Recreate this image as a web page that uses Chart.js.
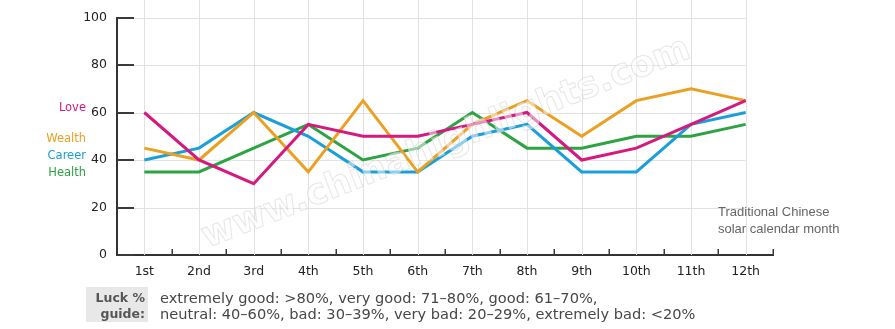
<!DOCTYPE html>
<html>
<head>
<meta charset="utf-8">
<script src="https://cdn.jsdelivr.net/npm/chart.js@4"></script>
<style>
  html, body { margin: 0; padding: 0; background: #ffffff; }
  #wrap { width: 895px; height: 329px; position: relative; }
</style>
</head>
<body>
<div id="wrap"><canvas id="c" width="895" height="329"></canvas></div>
<script>
const months = ['1st','2nd','3rd','4th','5th','6th','7th','8th','9th','10th','11th','12th'];
const love   = [60, 40, 30, 55, 50, 50, 55, 60, 40, 45, 55, 65];
const wealth = [45, 40, 60, 35, 65, 35, 55, 65, 50, 65, 70, 65];
const career = [40, 45, 60, 50, 35, 35, 50, 55, 35, 35, 55, 60];
const health = [35, 35, 45, 55, 40, 45, 60, 45, 45, 50, 50, 55];
const yTicks = [0, 20, 40, 60, 80, 100];
const seriesNames = ['Love', 'Wealth', 'Career', 'Health'];
const seriesColors = ['#d4197f', '#eba022', '#1b9fd8', '#2ea344'];
const guideLines = [
  'extremely good: >80%, very good: 71\u201380%, good: 61\u201370%,',
  'neutral: 40\u201360%, bad: 30\u201339%, very bad: 20\u201329%, extremely bad: <20%'
];
const axisTitle = ['Traditional Chinese', 'solar calendar month'];

const customGrid = {
  id: 'customGrid',
  beforeDatasetsDraw(chart) {
    const { ctx, chartArea: a, scales: { x, y } } = chart;
    ctx.save();
    const step = x.getPixelForValue(1) - x.getPixelForValue(0);
    ctx.strokeStyle = '#e2e2e2';
    ctx.lineWidth = 1;
    months.forEach((m, i) => {
      const px = Math.round(x.getPixelForValue(i)) + 0.5;
      ctx.beginPath(); ctx.moveTo(px, 0); ctx.lineTo(px, a.bottom); ctx.stroke();
    });
    const xEnd = x.getPixelForValue(months.length - 1);
    yTicks.forEach(v => {
      if (v === 0) return;
      const py = Math.round(y.getPixelForValue(v)) + 0.5;
      ctx.beginPath(); ctx.moveTo(a.left, py); ctx.lineTo(xEnd, py); ctx.stroke();
    });
    ctx.strokeStyle = '#3a3a3a';
    ctx.lineWidth = 2;
    yTicks.forEach(v => {
      const py = Math.round(y.getPixelForValue(v));
      ctx.beginPath(); ctx.moveTo(a.left, py); ctx.lineTo(a.left + 17, py); ctx.stroke();
    });
    ctx.lineWidth = 1.5;
    months.forEach((m, i) => {
      const px = Math.round(x.getPixelForValue(i) + step / 2) + 0.25;
      ctx.beginPath(); ctx.moveTo(px, a.bottom); ctx.lineTo(px, a.bottom - 6); ctx.stroke();
    });
    ctx.restore();
  },
  afterDatasetsDraw(chart) {
    const { ctx } = chart;
    ctx.save();
    ctx.translate(207, 248);
    ctx.rotate(-0.375);
    ctx.font = 'bold 36px "DejaVu Sans"';
    ctx.textBaseline = 'alphabetic';
    ctx.fillStyle = 'rgba(255,255,255,0.5)';
    ctx.fillText('www.chinahighlights.com', 0, 0);
    ctx.strokeStyle = 'rgba(205,205,205,0.5)';
    ctx.lineWidth = 1;
    ctx.strokeText('www.chinahighlights.com', 0, 0);
    ctx.restore();
  },
  afterDraw(chart) {
    const { ctx } = chart;
    ctx.save();
    ctx.font = '11.5px "DejaVu Sans"';
    ctx.textAlign = 'right';
    ctx.textBaseline = 'middle';
    const labelY = [108, 139, 156, 173];
    seriesNames.forEach((n, i) => {
      ctx.fillStyle = seriesColors[i];
      ctx.fillText(n, 86, labelY[i]);
    });
    ctx.textAlign = 'left';
    ctx.textBaseline = 'alphabetic';
    ctx.fillStyle = '#666666';
    ctx.font = '13px "Liberation Sans"';
    ctx.fillText(axisTitle[0], 718, 216);
    ctx.fillText(axisTitle[1], 718, 233);
    ctx.fillStyle = '#e8e8e8';
    ctx.fillRect(86, 287, 62, 35);
    ctx.fillStyle = '#555555';
    ctx.font = 'bold 12.5px "DejaVu Sans"';
    ctx.textAlign = 'right';
    ctx.fillText('Luck %', 145, 302);
    ctx.fillText('guide:', 145, 318);
    ctx.textAlign = 'left';
    ctx.fillStyle = '#474747';
    ctx.font = '14.6px "DejaVu Sans"';
    ctx.fillText(guideLines[0], 160, 303);
    ctx.fillText(guideLines[1], 160, 319);
    ctx.restore();
  }
};

const datasets = [love, wealth, career, health].map((d, i) => ({
  label: seriesNames[i],
  data: d,
  borderColor: seriesColors[i],
  backgroundColor: seriesColors[i],
  borderWidth: 3,
  pointRadius: 0,
  pointHoverRadius: 0,
  tension: 0,
  fill: false
}));

new Chart(document.getElementById('c'), {
  type: 'line',
  data: { labels: months, datasets: datasets },
  options: {
    responsive: false,
    animation: false,
    events: [],
    layout: { padding: { left: 0, top: 14, right: 122, bottom: 0 } },
    plugins: { legend: { display: false }, tooltip: { enabled: false } },
    scales: {
      x: {
        type: 'category',
        offset: true,
        grid: { color: 'rgba(0,0,0,0)', drawTicks: false },
        border: { display: true, color: '#333333', width: 2 },
        ticks: { color: '#222222', font: { family: '"DejaVu Sans"', size: 12.5 }, padding: 9, maxRotation: 0, autoSkip: false },
        afterFit(s) { s.height = 74; }
      },
      y: {
        min: 0, max: 100,
        afterBuildTicks(s) { s.ticks = yTicks.map(v => ({ value: v })); },
        grid: { color: 'rgba(0,0,0,0)', drawTicks: false },
        border: { display: true, color: '#333333', width: 2 },
        ticks: { color: '#222222', font: { family: '"DejaVu Sans"', size: 12.5 }, padding: 10 },
        afterFit(s) { s.width = 117; }
      }
    }
  },
  plugins: [customGrid]
});
</script>
</body>
</html>
